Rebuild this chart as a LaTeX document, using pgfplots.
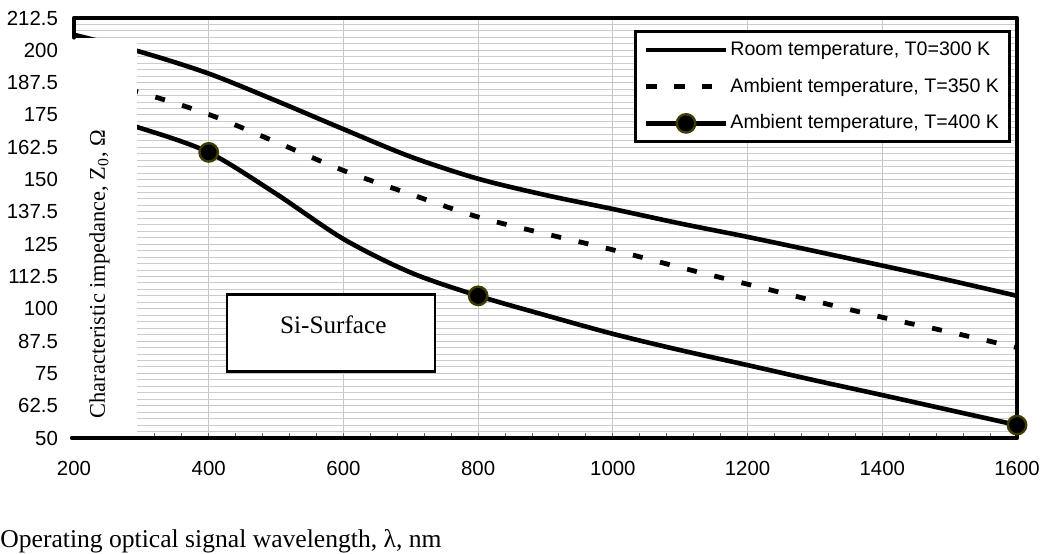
\documentclass[border=0pt]{standalone}
\usepackage{fontspec}
\setmainfont{Liberation Sans}
\newfontfamily\serif{Liberation Serif}
\usepackage{pgfplots}
\pgfplotsset{compat=1.18}
\definecolor{mkedge}{RGB}{64,60,0}
\begin{document}
\begin{tikzpicture}
\useasboundingbox (-37pt,-57.5pt) rectangle (484pt,219pt);
\begin{axis}[
  scale only axis, width=471.5pt, height=210pt,
  at={(0,0)}, anchor=south west,
  xmin=200, xmax=1600, ymin=50, ymax=212.5,
  clip=false,
  xtick={200,400,600,800,1000,1200,1400,1600},
  minor x tick num=4,
  ytick={50,62.5,75,87.5,100,112.5,125,137.5,150,162.5,175,187.5,200,212.5},
  minor y tick num=4,
  xmajorgrids, ymajorgrids, yminorgrids,
  major grid style={gray!45, line width=0.5pt},
  minor grid style={gray!40, line width=0.5pt},
  axis line style={draw=none},
  tick align=inside,
  xtick pos=bottom,
  major tick length=2.5pt, minor tick length=2.5pt,
  x tick style={black!60, line width=0.5pt},
  y tick style={draw=none},
  tick label style={font=\fontsize{10.2}{12}\selectfont},
  /pgf/number format/assume math mode=true,
  /pgf/number format/1000 sep={},
  yticklabel style={xshift=-4.5pt},
  xticklabel style={yshift=-8pt},
  legend style={at={(rel axis cs:0.594,0.971)}, anchor=north west,
    draw=black, line width=1.5pt, font=\fontsize{9.8}{11.5}\selectfont,
    inner xsep=4pt, inner ysep=3pt, row sep=5.8pt, nodes={inner xsep=1pt}},
  legend cell align=left,
  legend image code/.code={\draw[mark repeat=2,mark phase=2] plot coordinates {(0pt,0pt)(20pt,0pt)(40pt,0pt)};},
]
\addplot[black, line width=2.3pt, smooth] coordinates {
 (200,206) (300,199.3) (400,191) (500,180.5) (600,169.5) (700,158.8) (800,150.3)
 (900,144) (1000,138.6) (1100,133) (1200,127.8) (1300,122.3) (1400,116.7) (1500,111) (1600,105)};
\addlegendentry{Room temperature, T0=300 K}
\addplot[black, line width=2.4pt, dash pattern=on 5pt off 9pt, smooth] coordinates {
 (200,190) (300,183.5) (400,175.2) (500,164.5) (600,153.5) (700,144.3) (800,135.5)
 (900,129) (1000,122.8) (1100,116) (1200,109.5) (1300,103) (1400,96.7) (1500,91) (1600,85)};
\addlegendentry{Ambient temperature, T=350 K}
\addplot[black, line width=2.3pt, smooth, mark=*, mark indices={3,7,15}, mark size=4.6pt,
  mark options={solid, fill=black, draw=mkedge, line width=1.2pt},
  legend image code/.code={\draw[mark indices={2}] plot coordinates {(0pt,0pt)(20pt,0pt)(40pt,0pt)};}] coordinates {
 (200,177) (300,169.8) (400,160.5) (500,144.5) (600,127) (700,114) (800,105)
 (900,97.5) (1000,90.3) (1100,84) (1200,78.2) (1300,72.3) (1400,66.6) (1500,60.8) (1600,55)};
\addlegendentry{Ambient temperature, T=400 K}
\fill[white] (axis cs:190,50) rectangle (axis cs:293,204.7);
\draw[line width=2.2pt, line cap=round, line join=round]
  (axis cs:200,205) -- (axis cs:200,212.5) -- (axis cs:1600,212.5) -- (axis cs:1600,50) -- (axis cs:197,50);
\node[rotate=90, font=\serif\fontsize{11.2}{13}\selectfont] at (axis cs:238,113.4)
  {Characteristic impedance, Z\textsubscript{0}, Ω};
\draw[line width=1.3pt, fill=white] (axis cs:427,75.7) rectangle (axis cs:736,105.6);
\node[font=\serif\fontsize{12.6}{14}\selectfont] at (axis cs:585,93.9) {Si-Surface};
\end{axis}
\node[anchor=base west, inner sep=0pt, font=\serif\fontsize{12.8}{14}\selectfont] at (-37pt,-54.5pt)
  {Operating optical signal wavelength, λ, nm};
\end{tikzpicture}
\end{document}
